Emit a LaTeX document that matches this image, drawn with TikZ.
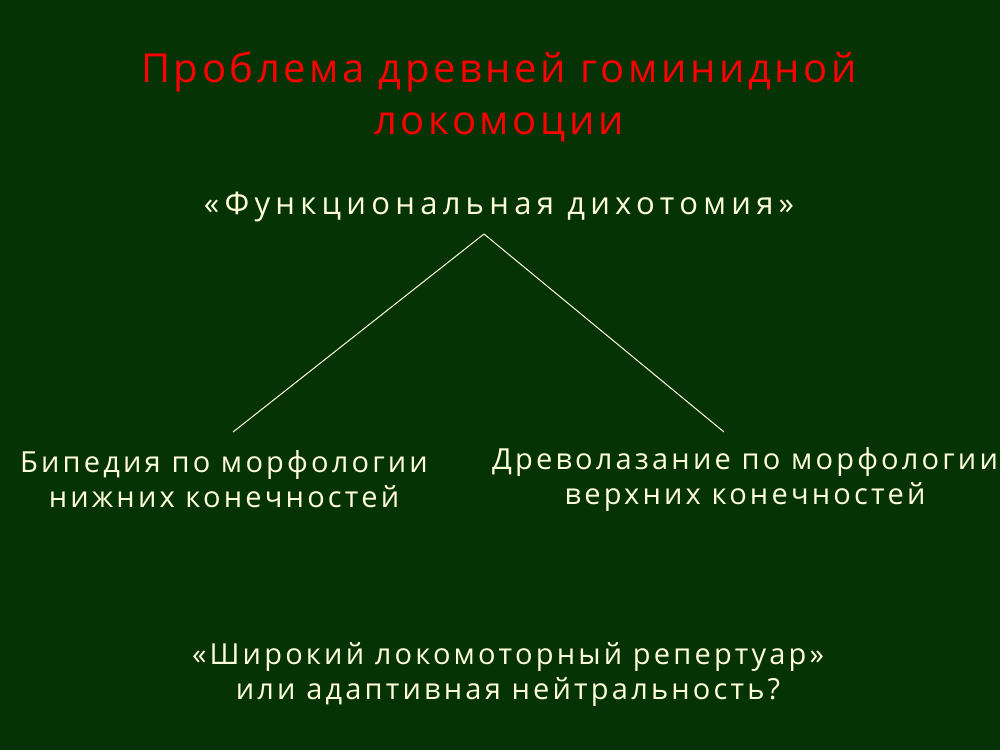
\documentclass[tikz,border=0pt]{standalone}
\usepackage{fontspec}
\setmainfont{Open Sans}
\newfontfamily\ttlfont[LetterSpace=9]{Open Sans}
\newfontfamily\bodyfont[LetterSpace=11]{Open Sans}
\newfontfamily\dichfont[LetterSpace=17]{Open Sans}
\definecolor{bg}{HTML}{053305}
\definecolor{txt}{HTML}{FFFFD8}
\definecolor{ttl}{HTML}{FF0000}
\begin{document}
\begin{tikzpicture}[x=1pt,y=-1pt,
  ttlstyle/.style={text=ttl,font=\ttlfont\fontsize{40}{52}\selectfont,align=center,inner sep=0pt},
  body/.style={text=txt,font=\bodyfont\fontsize{29}{35}\selectfont,align=center,inner sep=0pt},
  dichstyle/.style={text=txt,font=\dichfont\fontsize{31}{35}\selectfont,align=center,inner sep=0pt},
  link/.style={draw=txt,line width=1pt}]
\fill[bg] (0,0) rectangle (1000,750);
\useasboundingbox (0,0) rectangle (1000,750);
\node[ttlstyle] (title) at (499,97) {Проблема древней гоминидной\\локомоции};
\node[dichstyle] (dich) at (499,207) {«Функциональная дихотомия»};
\coordinate (apex) at (484,234);
\coordinate (lend) at (233,432);
\coordinate (rend) at (724,432);
\draw[link] (apex) -- (lend);
\draw[link] (apex) -- (rend);
\node[body] (left) at (224,479) {Бипедия по морфологии\\нижних конечностей};
\node[body] (right) at (745,479) {Древолазание по морфологии\\верхних конечностей};
\node[body] (bottom) at (508,675) {«Широкий локомоторный репертуар»\\или адаптивная нейтральность?};
\end{tikzpicture}
\end{document}
